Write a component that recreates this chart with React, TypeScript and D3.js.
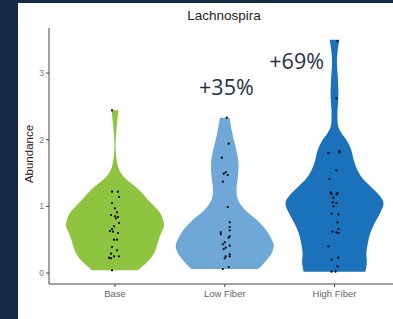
import React from "react";
import * as d3 from "d3";

const categories = ["Base", "Low Fiber", "High Fiber"];
const yTicks = [0, 1, 2, 3];
const colors = ["#8ec43f", "#6fa8d7", "#1c72ba"];
const annotationLabels = ["+35%", "+69%"];
const annotationCats = ["Low Fiber", "High Fiber"];
const annotationShift = [0.015, -0.345]; // horizontal shift in category units
const annotationValues = [2.67, 3.06];

// observed points (abundance) and horizontal jitter (in category units)
const baseValues = [2.44, 1.22, 1.22, 1.14, 1.05, 0.97, 0.91, 0.87, 0.85, 0.84, 0.82, 0.75, 0.7, 0.66, 0.63, 0.62, 0.6, 0.5, 0.5, 0.39, 0.34, 0.29, 0.25, 0.23, 0.22, 0.25, 0.04];
const baseJitter = [-0.027, -0.027, 0.027, 0.036, -0.027, 0, 0.018, -0.036, 0, 0.027, 0.009, 0.036, -0.009, -0.027, -0.045, -0.018, 0.027, -0.009, 0.018, -0.027, 0.018, -0.036, -0.009, -0.055, -0.036, 0.036, -0.027];
const lowValues = [2.33, 1.94, 1.73, 1.51, 1.49, 1.47, 1.37, 0.99, 0.76, 0.69, 0.64, 0.61, 0.58, 0.55, 0.53, 0.46, 0.43, 0.41, 0.38, 0.36, 0.28, 0.25, 0.25, 0.22, 0.09, 0.06];
const lowJitter = [0.018, 0.036, -0.027, 0.009, -0.009, 0.027, -0.018, 0.027, 0.045, 0.045, 0.045, -0.036, -0.036, 0.045, 0.036, 0, -0.018, 0.045, 0.009, -0.009, 0.045, 0.045, 0.009, 0, 0.036, -0.018];
const highValues = [3.48, 2.62, 1.83, 1.81, 1.8, 1.54, 1.41, 1.21, 1.19, 1.2, 1.18, 1.13, 1.06, 1.05, 1.0, 0.89, 0.88, 0.76, 0.66, 0.62, 0.61, 0.6, 0.4, 0.23, 0.2, 0.1, 0.02, 0.02];
const highJitter = [0.027, 0.018, 0.045, 0.045, -0.055, 0.018, -0.045, -0.036, -0.027, 0.027, 0.018, -0.009, -0.018, 0.018, -0.009, -0.027, 0.036, 0.027, 0.036, -0.018, 0.018, 0.036, -0.055, 0.036, -0.027, 0.027, -0.027, 0.009];

// violin density profiles: [abundance, relative width]
const baseProfile: [number, number][] = [[2.44, 0.07], [2.3, 0.05], [2.1, 0.025], [1.9, 0.012], [1.75, 0.025], [1.6, 0.06], [1.5, 0.12], [1.4, 0.24], [1.3, 0.41], [1.2, 0.55], [1.1, 0.67], [1.0, 0.8], [0.9, 0.92], [0.8, 0.98], [0.7, 1.0], [0.6, 0.94], [0.5, 0.89], [0.4, 0.85], [0.3, 0.8], [0.2, 0.7], [0.1, 0.56], [0.04, 0.47]];
const lowProfile: [number, number][] = [[2.33, 0.1], [2.15, 0.14], [1.95, 0.2], [1.8, 0.25], [1.65, 0.28], [1.45, 0.27], [1.25, 0.24], [1.1, 0.27], [0.95, 0.41], [0.8, 0.65], [0.65, 0.84], [0.5, 0.96], [0.42, 1.0], [0.3, 0.96], [0.2, 0.86], [0.1, 0.74], [0.06, 0.68]];
const highProfile: [number, number][] = [[3.5, 0.1], [3.35, 0.067], [3.15, 0.05], [2.95, 0.067], [2.65, 0.08], [2.4, 0.06], [2.2, 0.075], [2.1, 0.14], [2.0, 0.24], [1.85, 0.34], [1.65, 0.41], [1.45, 0.54], [1.3, 0.73], [1.15, 0.93], [1.05, 1.0], [0.9, 0.93], [0.75, 0.82], [0.6, 0.73], [0.45, 0.68], [0.3, 0.65], [0.15, 0.66], [0.02, 0.63]];

const groups = [
  { cat: categories[0], values: baseValues, jitter: baseJitter, profile: baseProfile, color: colors[0] },
  { cat: categories[1], values: lowValues, jitter: lowJitter, profile: lowProfile, color: colors[1] },
  { cat: categories[2], values: highValues, jitter: highJitter, profile: highProfile, color: colors[2] },
];

export default function App() {
  const W = 393, H = 319;
  const panelLeft = 49, panelTop = 28, panelBottom = 284;
  const x = d3.scalePoint<string>().domain(categories).range([115, 334.5]);
  const step = x.step();
  const halfMax = step * 0.447;
  const y = d3.scaleLinear().domain([-0.165, 3.675]).range([panelBottom, panelTop]);
  const axisFont = "'Liberation Sans', Arial, sans-serif";

  return (
    <svg width={W} height={H} style={{ position: "absolute", left: 0, top: 0, background: "#fff" }}>
      <rect x={0} y={0} width={W} height={H} fill="#fff" />
      <rect x={0} y={0} width={18} height={H} fill="#172a45" />
      <rect x={0} y={0} width={W} height={3} fill="#172a45" />

      <text x={224} y={20} textAnchor="middle" fontFamily={axisFont} fontSize={13.5} fill="#222">Lachnospira</text>

      {groups.map((g) => {
        const cx = x(g.cat)!;
        const area = d3
          .area<[number, number]>()
          .curve(d3.curveCatmullRom.alpha(0.5))
          .y((d) => y(d[0]))
          .x0((d) => cx - d[1] * halfMax)
          .x1((d) => cx + d[1] * halfMax);
        return (
          <g key={g.cat}>
            <path d={area(g.profile)!} fill={g.color} />
            {g.values.map((v, i) => (
              <circle key={i} cx={cx + g.jitter[i] * step} cy={y(v)} r={1.1} fill="#000" />
            ))}
          </g>
        );
      })}

      {/* axes */}
      <line x1={panelLeft} x2={panelLeft} y1={panelTop} y2={panelBottom} stroke="#444" strokeWidth={1} />
      <line x1={panelLeft} x2={W} y1={panelBottom} y2={panelBottom} stroke="#444" strokeWidth={1} />
      {yTicks.map((t) => (
        <g key={t}>
          <line x1={panelLeft - 3} x2={panelLeft} y1={y(t)} y2={y(t)} stroke="#444" />
          <text x={panelLeft - 5} y={y(t) + 3} textAnchor="end" fontFamily={axisFont} fontSize={8.5} fill="#777">{t}</text>
        </g>
      ))}
      {categories.map((c) => (
        <g key={c}>
          <line x1={x(c)!} x2={x(c)!} y1={panelBottom} y2={panelBottom + 3} stroke="#444" />
          <text x={x(c)!} y={297} textAnchor="middle" fontFamily={axisFont} fontSize={9.5} fill="#666">{c}</text>
        </g>
      ))}
      <text transform={`translate(33,154) rotate(-90)`} textAnchor="middle" fontFamily={axisFont} fontSize={11.5} fill="#222">Abundance</text>

      {annotationLabels.map((label, i) => (
        <text
          key={label}
          x={x(annotationCats[i])! + annotationShift[i] * step}
          y={y(annotationValues[i])}
          textAnchor="middle"
          fontFamily="'Open Sans', Lato, sans-serif"
          fontSize={21.5}
          fill="#263047"
        >
          {label}
        </text>
      ))}
    </svg>
  );
}
